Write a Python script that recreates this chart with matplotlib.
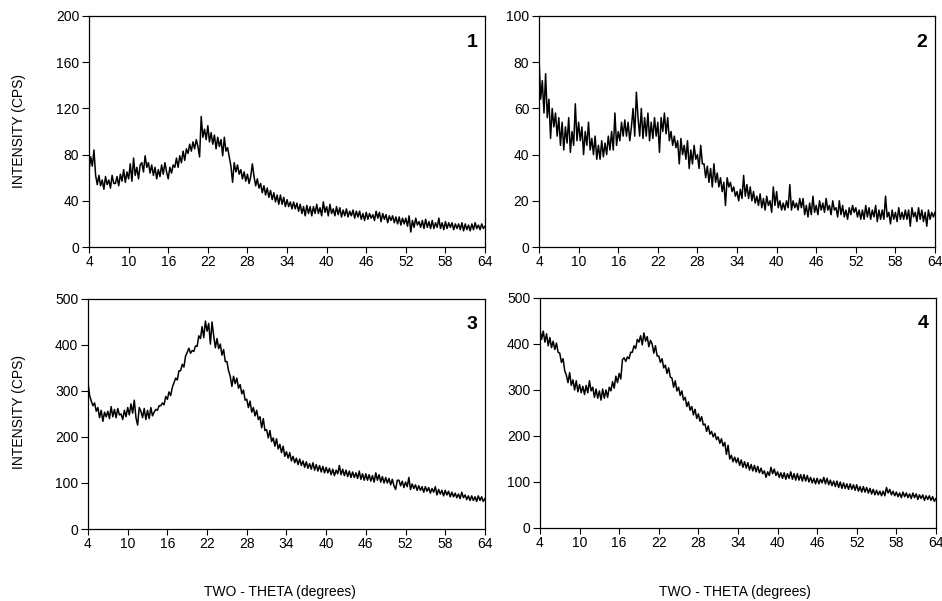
import numpy as np
import matplotlib.pyplot as plt

"""
  XRD patterns, four samples, intensity vs two-theta
"""
plt.rcParams['font.family'] = ['Liberation Sans', 'DejaVu Sans']

# two-theta grid, 0.25 deg steps from 4 to 64
two_theta = np.arange(4, 64.001, 0.25)

# readings per degree row: x.00, x.25, x.50, x.75
cps_1 = [
    66, 78, 70, 84,   62, 54, 62, 53,   58, 50, 61, 54,   58, 51, 62, 55,   # 4-7
    55, 61, 53, 63,   57, 67, 56, 65,   59, 72, 57, 77,   62, 69, 59, 71,   # 8-11
    73, 65, 79, 69,   73, 64, 71, 62,   69, 59, 67, 61,   71, 63, 73, 65,   # 12-15
    59, 69, 64, 71,   69, 77, 69, 79,   73, 83, 75, 85,   81, 89, 83, 91,   # 16-19
    85, 93, 87, 78,   113, 95, 102, 93, 105, 91, 99, 89,  97, 85, 95, 87,   # 20-23
    93, 79, 95, 83,   86, 78, 70, 56,   73, 65, 71, 63,   67, 59, 65, 57,   # 24-27
    63, 55, 61, 72,   61, 53, 59, 51,   55, 47, 53, 45,   51, 43, 49, 41,   # 28-31
    47, 39, 45, 37,   45, 37, 43, 35,   41, 35, 39, 33,   39, 33, 38, 31,   # 32-35
    37, 29, 35, 27,   36, 29, 35, 27,   35, 29, 37, 29,   34, 27, 39, 30,   # 36-39
    35, 27, 37, 29,   33, 27, 35, 28,   34, 26, 32, 27,   33, 26, 31, 27,   # 40-43
    32, 25, 31, 26,   31, 24, 29, 23,   30, 24, 29, 25,   28, 23, 31, 25,   # 44-47
    30, 22, 29, 24,   28, 21, 27, 23,   27, 21, 26, 20,   26, 19, 25, 20,   # 48-51
    25, 18, 27, 13,   23, 17, 25, 19,   22, 17, 23, 16,   24, 17, 22, 16,   # 52-55
    23, 16, 21, 17,   25, 16, 21, 15,   22, 16, 21, 17,   21, 15, 20, 16,   # 56-59
    20, 15, 21, 14,   20, 15, 19, 14,   20, 15, 21, 16,   19, 15, 20, 16,   # 60-63
    18]

cps_2 = [
    82, 64, 72, 58,   75, 56, 64, 47,   60, 52, 58, 48,   56, 44, 54, 42,   # 4-7
    52, 45, 56, 41,   50, 44, 62, 46,   54, 46, 52, 40,   50, 44, 54, 42,   # 8-11
    47, 40, 48, 38,   44, 38, 46, 39,   45, 40, 48, 42,   50, 42, 58, 44,   # 12-15
    50, 46, 54, 48,   55, 48, 54, 46,   52, 60, 48, 67,   56, 48, 60, 47,   # 16-19
    56, 48, 58, 46,   54, 47, 56, 48,   54, 41, 56, 50,   58, 49, 56, 46,   # 20-23
    50, 44, 48, 43,   46, 36, 47, 40,   44, 38, 46, 34,   42, 36, 44, 38,   # 24-27
    40, 34, 44, 36,   36, 30, 35, 28,   34, 26, 36, 28,   32, 26, 30, 24,   # 28-31
    28, 18, 30, 26,   28, 24, 26, 22,   24, 20, 25, 21,   31, 22, 27, 21,   # 32-35
    26, 20, 24, 19,   22, 18, 23, 17,   21, 16, 22, 18,   20, 15, 26, 18,   # 36-39
    24, 17, 20, 16,   19, 16, 20, 17,   27, 16, 20, 17,   19, 16, 21, 17,   # 40-43
    21, 14, 18, 13,   19, 14, 22, 15,   18, 14, 20, 16,   19, 15, 21, 16,   # 44-47
    18, 14, 20, 16,   17, 13, 20, 14,   18, 13, 16, 12,   17, 14, 18, 15,   # 48-51
    17, 13, 16, 12,   16, 12, 18, 13,   17, 12, 16, 13,   18, 11, 16, 12,   # 52-55
    16, 12, 22, 13,   15, 10, 16, 12,   15, 11, 17, 12,   15, 12, 16, 12,   # 56-59
    16, 9, 17, 13,    15, 11, 17, 12,   16, 11, 15, 9,    16, 12, 15, 13,   # 60-63
    15]

cps_3 = [
    318, 290, 278, 268,  274, 256, 264, 242,  258, 234, 254, 244,  256, 240, 266, 244,  # 4-7
    260, 242, 262, 248,  250, 238, 258, 244,  264, 248, 272, 252,  280, 242, 226, 264,  # 8-11
    256, 242, 262, 238,  258, 240, 264, 246,  254, 260, 258, 268,  268, 274, 270, 288,  # 12-15
    282, 298, 290, 308,  318, 328, 324, 344,  344, 358, 352, 376,  384, 393, 382, 388,  # 16-19
    386, 398, 397, 420,  414, 440, 416, 452,  430, 447, 402, 450,  420, 394, 414, 392,  # 20-23
    402, 378, 390, 364,  364, 344, 332, 310,  332, 316, 328, 306,  314, 294, 302, 280,  # 24-27
    282, 264, 278, 254,  264, 246, 258, 238,  244, 220, 240, 214,  216, 198, 214, 190,  # 28-31
    198, 180, 196, 174,  184, 166, 180, 158,  168, 154, 166, 148,  158, 144, 154, 140,  # 32-35
    152, 138, 148, 134,  146, 132, 142, 130,  144, 128, 140, 126,  138, 124, 136, 122,  # 36-39
    134, 122, 132, 118,  130, 116, 128, 120,  138, 118, 130, 116,  128, 114, 126, 112,  # 40-43
    124, 112, 122, 110,  126, 108, 120, 106,  120, 106, 118, 104,  116, 102, 122, 106,  # 44-47
    118, 102, 114, 100,  112, 100, 110, 96,   108, 94, 86, 106,   106, 94, 104, 90,    # 48-51
    102, 92, 112, 86,    98, 88, 96, 84,      94, 84, 92, 80,      92, 82, 90, 78,      # 52-55
    88, 80, 92, 74,      86, 76, 84, 72,      84, 74, 82, 70,      80, 70, 78, 68,      # 56-59
    76, 66, 80, 68,      74, 64, 72, 62,      72, 62, 70, 60,      72, 62, 70, 60,      # 60-63
    66]

cps_4 = [
    432, 410, 428, 404,  422, 396, 414, 392,  406, 388, 402, 382,  380, 360, 368, 342,  # 4-7
    332, 316, 338, 310,  322, 300, 320, 296,  312, 294, 308, 290,  310, 294, 320, 298,  # 8-11
    306, 284, 302, 282,  298, 278, 302, 282,  300, 284, 306, 298,  318, 304, 330, 316,  # 12-15
    336, 324, 366, 370,  362, 372, 368, 382,  382, 396, 390, 410,  404, 418, 398, 424,  # 16-19
    406, 416, 394, 408,  400, 380, 396, 374,  374, 360, 368, 348,  354, 336, 348, 328,  # 20-23
    326, 306, 320, 298,  306, 288, 298, 278,  284, 264, 274, 256,  264, 246, 258, 238,  # 24-27
    248, 232, 242, 224,  226, 210, 222, 204,  210, 198, 206, 192,  198, 184, 194, 178,  # 28-31
    186, 160, 180, 150,  158, 144, 154, 142,  152, 136, 148, 132,  144, 130, 142, 126,  # 32-35
    138, 124, 136, 122,  134, 120, 130, 118,  124, 110, 122, 114,  132, 118, 128, 114,  # 36-39
    122, 110, 120, 108,  120, 106, 118, 108,  122, 106, 118, 104,  118, 104, 116, 102,  # 40-43
    116, 102, 114, 100,  110, 98, 108, 96,    108, 96, 106, 98,    110, 96, 108, 94,    # 44-47
    104, 92, 102, 90,    102, 88, 100, 86,    98, 86, 96, 84,      96, 84, 94, 82,      # 48-51
    94, 80, 90, 78,      90, 78, 88, 76,      86, 74, 84, 72,      82, 72, 80, 70,      # 52-55
    80, 70, 88, 76,      84, 72, 80, 70,      78, 68, 76, 66,      78, 68, 76, 66,      # 56-59
    74, 64, 76, 66,      74, 62, 72, 64,      72, 60, 70, 62,      70, 60, 68, 58,      # 60-63
    64]

x_ticks = [4, 10, 16, 22, 28, 34, 40, 46, 52, 58, 64]
y_ticks = [[0, 40, 80, 120, 160, 200], [0, 20, 40, 60, 80, 100],
           [0, 100, 200, 300, 400, 500], [0, 100, 200, 300, 400, 500]]
panel_ids = ['1', '2', '3', '4']
series = [cps_1, cps_2, cps_3, cps_4]

fig = plt.figure(figsize=(9.42, 6.01), dpi=100)

# axes boxes in figure fractions (left, bottom, width, height)
boxes = [(0.0945, 0.589, 0.4204, 0.3844),
         (0.5722, 0.589, 0.4204, 0.3844),
         (0.0934, 0.1198, 0.4214, 0.3827),
         (0.5732, 0.1215, 0.4204, 0.3827)]

for i in range(4):
    ax = fig.add_axes(boxes[i])
    ax.plot(two_theta, series[i], color='black', linewidth=1.1)
    ax.set_xlim(4, 64)
    ax.set_ylim(y_ticks[i][0], y_ticks[i][-1])
    ax.set_xticks(x_ticks)
    ax.set_yticks(y_ticks[i])
    ax.tick_params(axis='x', direction='out', length=4, width=0.8, pad=2, labelsize=10)
    ax.tick_params(axis='y', direction='out', length=5, width=0.8, pad=2, labelsize=10)
    for s in ax.spines.values():
        s.set_linewidth(0.9)
    ax.text(0.967, 0.887, panel_ids[i], transform=ax.transAxes, ha='center', va='center',
            fontsize=14, fontweight='bold')

# shared labels
fig.text(19/942, 1 - 131/601, 'INTENSITY (CPS)', rotation=90, ha='center', va='center', fontsize=10)
fig.text(19/942, 1 - 412/601, 'INTENSITY (CPS)', rotation=90, ha='center', va='center', fontsize=10)
fig.text(280/942, 1 - 592/601, 'TWO - THETA (degrees)', ha='center', va='center', fontsize=10)
fig.text(735/942, 1 - 592/601, 'TWO - THETA (degrees)', ha='center', va='center', fontsize=10)

fig.savefig('out.png', dpi=100)
